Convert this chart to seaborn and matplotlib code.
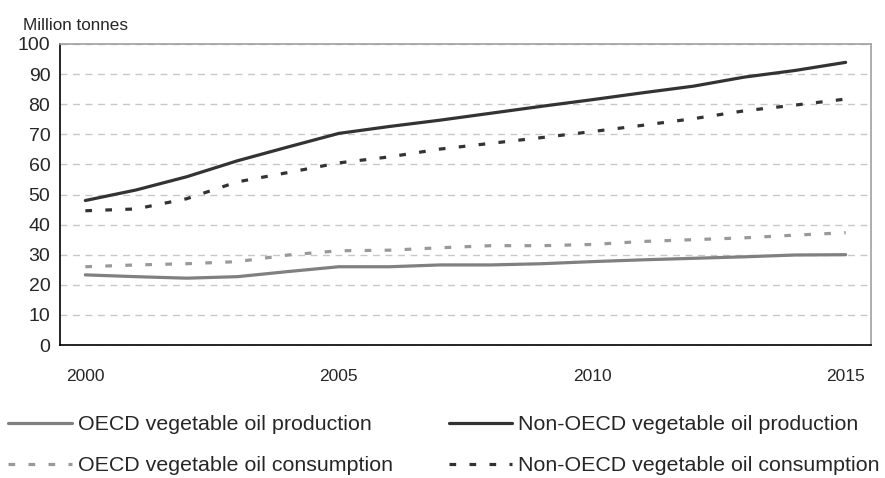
import numpy as np
import pandas as pd
import matplotlib
matplotlib.use("Agg")
import matplotlib.pyplot as plt
from matplotlib.ticker import FixedLocator
import seaborn as sns

# Data (million tonnes)
years = list(range(2000, 2016))
oecd_production = [23.3, 22.7, 22.2, 22.7, 24.4, 26.0, 26.0, 26.6, 26.6, 27.0,
                   27.7, 28.3, 28.8, 29.3, 29.9, 30.0]
non_oecd_production = [48.0, 51.5, 55.9, 61.2, 65.8, 70.3, 72.6, 74.7, 77.0, 79.3,
                       81.5, 83.8, 86.0, 89.0, 91.2, 93.9]
oecd_consumption = [26.0, 26.6, 27.0, 27.7, 29.9, 31.3, 31.5, 32.3, 33.0, 33.0,
                    33.4, 34.4, 35.0, 35.6, 36.5, 37.3]
non_oecd_consumption = [44.6, 45.2, 48.6, 54.2, 57.3, 60.5, 62.5, 65.1, 67.0, 68.9,
                        70.9, 73.0, 75.2, 77.8, 79.7, 81.7]

series_names = ["OECD vegetable oil production",
                "OECD vegetable oil consumption",
                "Non-OECD vegetable oil production",
                "Non-OECD vegetable oil consumption"]

df = pd.DataFrame({
    "year": years * 4,
    "value": oecd_production + oecd_consumption + non_oecd_production + non_oecd_consumption,
    "series": np.repeat(series_names, len(years)),
})

colors = {series_names[0]: "#808080", series_names[1]: "#999999",
          series_names[2]: "#333333", series_names[3]: "#333333"}
dashes = {series_names[0]: "", series_names[1]: (4.8, 9.6),
          series_names[2]: "", series_names[3]: (4.8, 9.6)}

sns.set_style("white")
plt.rcParams["font.family"] = ["Liberation Sans", "DejaVu Sans"]
plt.rcParams["lines.scale_dashes"] = False

fig = plt.figure(figsize=(8.85, 4.78), dpi=100)
ax = fig.add_axes([60 / 885, 1 - 345 / 478, 811 / 885, 301 / 478])

sns.lineplot(data=df, x="year", y="value", hue="series", style="series",
             palette=colors, dashes=dashes, linewidth=2.3, ax=ax, legend=False,
             hue_order=series_names, style_order=series_names)

ax.set_xlim(1999.5, 2015.5)
ax.set_ylim(0, 100)
ax.set_yticks(range(0, 101, 10))
ax.set_xticks([2000, 2005, 2010, 2015])
ax.xaxis.set_minor_locator(FixedLocator(np.arange(2000.5, 2015.5, 1)))
ax.tick_params(axis="x", which="major", length=0, pad=17, labelsize=12.5)
ax.tick_params(axis="x", which="minor", direction="in", length=5, width=1, color="black")
ax.tick_params(axis="y", length=0, pad=7, labelsize=14)
ax.set_xlabel("")
ax.set_ylabel("")

ax.grid(axis="y", color="#c8c8c8", linestyle=(0, (5, 4)), linewidth=1)
ax.set_axisbelow(True)
for side in ["left", "bottom"]:
    ax.spines[side].set_color("black")
    ax.spines[side].set_linewidth(1.2)
for side in ["top", "right"]:
    ax.spines[side].set_color("#a0a0a0")
    ax.spines[side].set_linewidth(1.2)

fig.text(23 / 885, 1 - 25 / 478, "Million tonnes", fontsize=12.3, va="center", ha="left")

handles = [ax.lines[i] for i in range(4)]
leg = fig.legend(handles, series_names, ncol=2, loc="upper left",
                 bbox_to_anchor=(8 / 885, 1 - 415 / 478), frameon=False, fontsize=15.4,
                 handlelength=2.97, handletextpad=0.3, columnspacing=2.6,
                 labelspacing=1.05, borderpad=0, borderaxespad=0)

fig.savefig("out.png", dpi=100)
